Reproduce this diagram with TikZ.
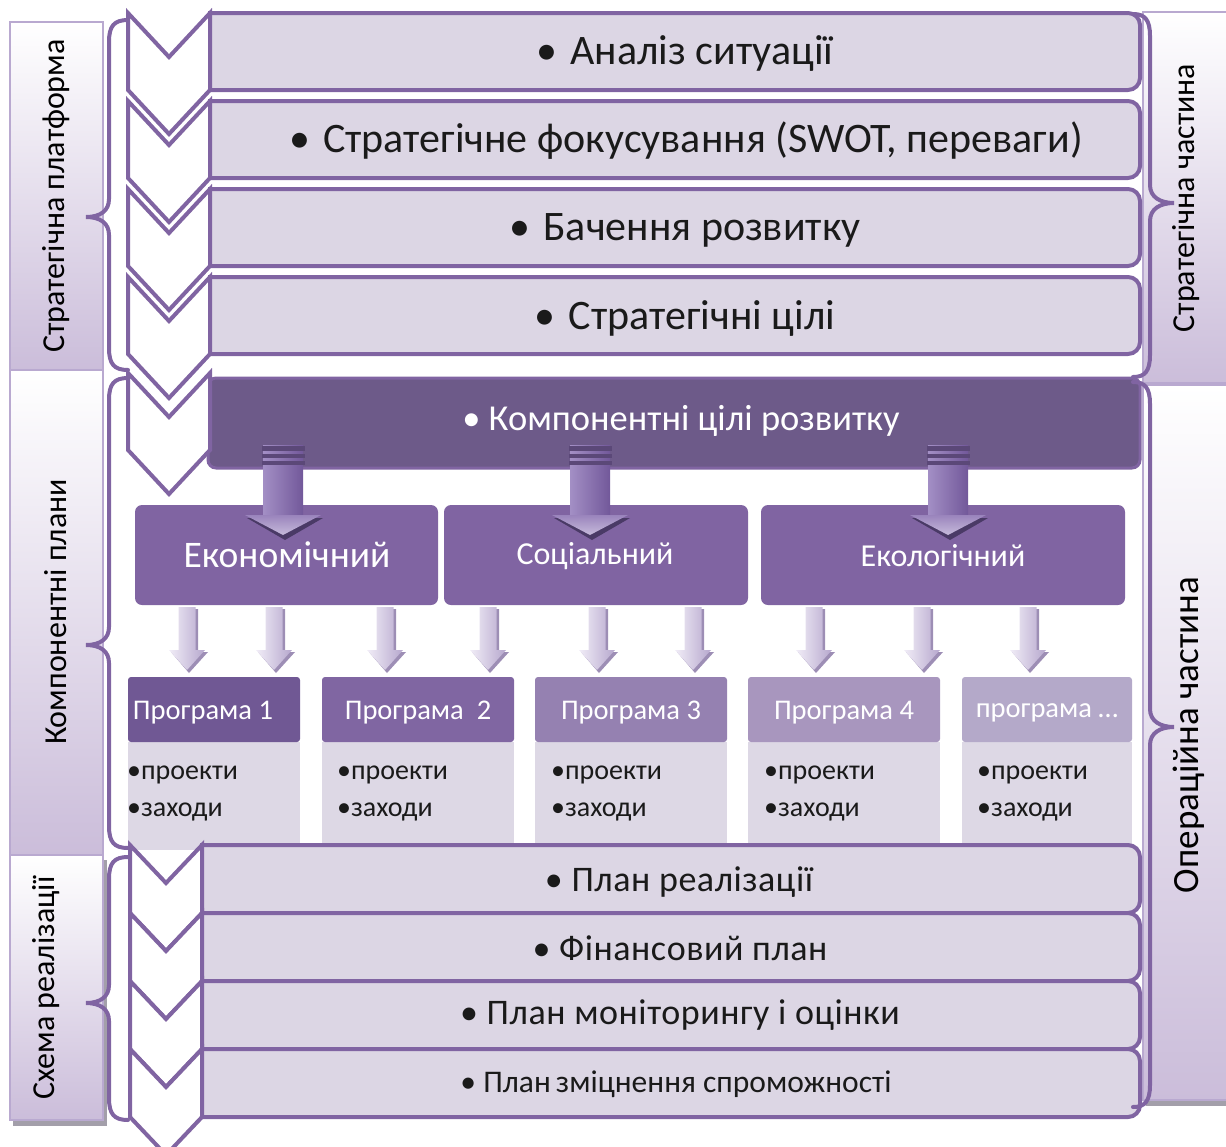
\documentclass[tikz,border=0pt]{standalone}
\usepackage{fontspec}
\setmainfont{Carlito}
\newfontfamily\wideA[LetterSpace=1.5]{Carlito}
\definecolor{pborder}{HTML}{8064A2}
\definecolor{rowfill}{HTML}{DCD6E4}
\definecolor{compfill}{HTML}{6D5A89}
\definecolor{catfill}{HTML}{8064A2}
\definecolor{lablo}{HTML}{CBBDDA}
\definecolor{labline}{HTML}{B9A9D0}
\definecolor{shadowc}{HTML}{A39FAA}
\definecolor{hdrA}{HTML}{705894}
\definecolor{hdrB}{HTML}{8066A2}
\definecolor{hdrC}{HTML}{9581B1}
\definecolor{hdrD}{HTML}{A896BE}
\definecolor{hdrE}{HTML}{B4A9C9}
\definecolor{bodyfill}{HTML}{DDD8E5}
\definecolor{txtc}{HTML}{1A1A1A}
\definecolor{smL}{HTML}{F1EDF7}
\definecolor{smR}{HTML}{B6A7CD}
\definecolor{smS}{HTML}{9D8EB5}
\definecolor{bigL}{HTML}{A38FC5}
\definecolor{bigR}{HTML}{72589A}
\definecolor{headT}{HTML}{9A84BC}
\definecolor{headB}{HTML}{C6BADB}
\definecolor{headS}{HTML}{4A3A66}
\definecolor{stripe}{HTML}{5B4878}
\newcommand\fsz[1]{\fontsize{#1}{#1}\selectfont}
\newcommand\mychev[5]{%
  \draw[chevstyle] (#1,#3) -- ({(#1+#2)/2},{#3+#5}) -- (#2,#3) -- (#2,{#3+#4})
    -- ({(#1+#2)/2},{#3+#4+#5}) -- (#1,{#3+#4}) -- cycle;}
\newcommand\myLbr[3]{%
  \draw[bracestyle] (128,#1) .. controls (114,#1) and (109,{#1+6}) .. (109,{#1+22})
    -- (109,{#2-18}) .. controls (109,{#2-6}) and (100,#2) .. (86,#2)
    .. controls (100,#2) and (109,{#2+6}) .. (109,{#2+18})
    -- (109,{#3-22}) .. controls (109,{#3-6}) and (114,#3) .. (128,#3);}
\newcommand\myRbr[3]{%
  \draw[bracestyle] (1133,#1) .. controls (1145,#1) and (1150,{#1+6}) .. (1150,{#1+22})
    -- (1150,{#2-18}) .. controls (1150,{#2-6}) and (1160,#2) .. (1174,#2)
    .. controls (1160,#2) and (1150,{#2+6}) .. (1150,{#2+18})
    -- (1150,{#3-22}) .. controls (1150,{#3-6}) and (1145,#3) .. (1133,#3);}
\newcommand\bigarr[1]{%
  \fill[headS] ({#1-36},518) -- ({#1+40},518) -- ({#1+2},540) -- cycle;
  \shade[left color=bigL, right color=bigR] ({#1-20},445) rectangle ({#1+20},518);
  \shade[top color=headT, bottom color=headB] ({#1-38},515) -- ({#1+38},515) -- (#1,535) -- cycle;
  \fill[stripe] ({#1-21},446) rectangle ({#1+22},451);
  \fill[stripe] ({#1-21},454) rectangle ({#1+22},458);
  \fill[stripe] ({#1-21},461) rectangle ({#1+22},465);}
\newcommand\smarr[1]{%
  \fill[smS] ({#1-6},609) -- ({#1+11},609) -- ({#1+11},652) -- ({#1+21},652) -- ({#1+2},673)
    -- ({#1-16},652) -- ({#1-6},652) -- cycle;
  \shade[left color=smL, right color=smR] ({#1-8.5},607) -- ({#1+8.5},607) -- ({#1+8.5},650)
    -- ({#1+18},650) -- (#1,670) -- ({#1-18},650) -- ({#1-8.5},650) -- cycle;}
\newcommand\bul{•\hspace{13pt}}
\begin{document}
\begin{tikzpicture}[x=1pt,y=-1pt,
  labelbox/.style={draw=labline, line width=1.5pt, top color=white, bottom color=lablo},
  chevstyle/.style={draw=pborder, fill=white, line width=4pt, line join=miter},
  rowstyle/.style={draw=pborder, fill=rowfill, line width=4pt, rounded corners=12pt},
  bracestyle/.style={draw=pborder, line width=4pt, line cap=round},
  rowtext/.style={text=txtc, inner sep=0pt},
  cattext/.style={text=white, inner sep=0pt},
  hdrtext/.style={text=white, inner sep=0pt, font=\fsz{28.5}},
  bodytext/.style={text=txtc, inner sep=0pt, anchor=west, font=\fsz{28}},
  labtext/.style={text=black, inner sep=0pt, rotate=90}]
\useasboundingbox (0,0) rectangle (1226,1146);
% ---------- label boxes ----------
\fill[shadowc] (13,860) rectangle (107,1126);
\fill[shadowc] (1146,17) rectangle (1226,388);
\fill[shadowc] (1146,390) rectangle (1226,1106);
\path[labelbox] (10,22) rectangle (103,370);
\path[labelbox] (10,370) rectangle (103,855);
\path[labelbox] (10,855) rectangle (103,1120);
\path[labelbox] (1143,12) rectangle (1227,383);
\path[labelbox] (1143,385) rectangle (1227,1100);
\node[labtext, font=\fsz{32}] (lsp) at (56,196) {Стратегічна платформа};
\node[labtext, font=\fsz{32}] (lkp) at (56,612) {Компонентні плани};
\node[labtext, font=\fsz{32}] (lsr) at (46,988) {Схема реалізації};
\node[labtext, font=\fsz{32}] (rsc) at (1186,198) {Стратегічна частина};
\node[labtext, font=\fsz{37}] (roc) at (1189,735) {Операційна частина};
% ---------- top rows ----------
\begin{scope}
\clip (208,0) rectangle (1226,1146);
\path[rowstyle] (180,13) rectangle (1140,90);
\path[rowstyle] (180,101) rectangle (1140,178);
\path[rowstyle] (180,189) rectangle (1140,266);
\path[rowstyle] (180,277) rectangle (1140,354);
\end{scope}
\node[rowtext, font=\fsz{42}] (r1) at (685,53) {\bul Аналіз ситуації};
\node[rowtext, font=\fsz{42}] (r2) at (686,141) {\bul Стратегічне фокусування (SWOT, переваги)};
\node[rowtext, font=\fsz{42}] (r3) at (685,230) {\bul Бачення розвитку};
\node[rowtext, font=\fsz{42}] (r4) at (685,318) {\bul Стратегічні цілі};
% component box
\path[draw=pborder, fill=compfill, line width=3pt, rounded corners=8pt] (208,378) rectangle (1140,468);
\node[cattext, font=\fsz{36.5}] (comp) at (681,421) {• Компонентні цілі розвитку};
% ---------- top chevrons ----------
\mychev{128}{210}{13}{77}{44}
\mychev{128}{210}{101}{77}{44}
\mychev{128}{210}{189}{77}{44}
\mychev{128}{210}{277}{77}{44}
\mychev{128}{210}{373}{77}{44}
% ---------- categories ----------
\path[fill=catfill, rounded corners=7pt] (135,505) rectangle (438,605);
\path[fill=catfill, rounded corners=7pt] (444,505) rectangle (748,605);
\path[fill=catfill, rounded corners=7pt] (761,505) rectangle (1125,605);
\node[cattext, font=\fsz{37.5}] (econ) at (287,555) {Економічний};
\node[cattext, font=\fsz{32}] (soc) at (595,556) {Соціальний};
\node[cattext, font=\fsz{32}] (ecol) at (943,556) {Екологічний};
\bigarr{283}
\bigarr{590}
\bigarr{948}
% ---------- small arrows ----------
\smarr{187}\smarr{274}\smarr{385}\smarr{488}\smarr{597}\smarr{693}\smarr{814}\smarr{922}\smarr{1028}
% ---------- programmes ----------
\fill[bodyfill] (128,742) rectangle (300,850);
\fill[bodyfill] (322,742) rectangle (514,850);
\fill[bodyfill] (535,742) rectangle (727,850);
\fill[bodyfill] (748,742) rectangle (940,850);
\fill[bodyfill] (962,742) rectangle (1132,850);
\fill[hdrA, rounded corners=3pt] (128,677) rectangle (300,742);
\fill[hdrB, rounded corners=3pt] (322,677) rectangle (514,742);
\fill[hdrC, rounded corners=3pt] (535,677) rectangle (727,742);
\fill[hdrD, rounded corners=3pt] (748,677) rectangle (940,742);
\fill[hdrE, rounded corners=3pt] (962,677) rectangle (1132,742);
\node[hdrtext] (p1) at (203,713) {Програма 1};
\node[hdrtext] (p2) at (418,713) {Програма~~2};
\node[hdrtext] (p3) at (631,713) {Програма 3};
\node[hdrtext] (p4) at (844,713) {Програма 4};
\node[hdrtext] (p5) at (1047,713) {програма …};
\node[bodytext] (p1a) at (127,775) {•проекти};
\node[bodytext] (p1b) at (127,812) {•заходи};
\node[bodytext] (p2a) at (337,775) {•проекти};
\node[bodytext] (p2b) at (337,812) {•заходи};
\node[bodytext] (p3a) at (551,775) {•проекти};
\node[bodytext] (p3b) at (551,812) {•заходи};
\node[bodytext] (p4a) at (764,775) {•проекти};
\node[bodytext] (p4b) at (764,812) {•заходи};
\node[bodytext] (p5a) at (977,775) {•проекти};
\node[bodytext] (p5b) at (977,812) {•заходи};
% ---------- bottom rows ----------
\begin{scope}
\clip (200,0) rectangle (1226,1146);
\path[rowstyle] (170,845) rectangle (1140,913);
\path[rowstyle] (170,913) rectangle (1140,981);
\path[rowstyle] (170,981) rectangle (1140,1049);
\path[rowstyle] (170,1049) rectangle (1140,1117);
\end{scope}
\node[rowtext, font=\wideA\fsz{36}] (b1) at (679,882) {• План реалізації};
\node[rowtext, font=\wideA\fsz{36}] (b2) at (680,948) {• Фінансовий план};
\node[rowtext, font=\wideA\fsz{36}] (b3) at (680,1015) {• План моніторингу і оцінки};
\node[rowtext, font=\fsz{31.5}] (b4) at (676,1084) {• План\hspace{-2pt} зміцнення спроможності};
% ---------- bottom chevrons ----------
\mychev{130}{202}{845}{68}{38}
\mychev{130}{202}{913}{68}{38}
\mychev{130}{202}{981}{68}{38}
\mychev{130}{202}{1049}{68}{38}
% ---------- braces ----------
\myLbr{20}{217}{370}
\myLbr{378}{645}{848}
\myLbr{857}{1003}{1120}
\myRbr{14}{203}{377}
\myRbr{382}{727}{1107}
\end{tikzpicture}
\end{document}
